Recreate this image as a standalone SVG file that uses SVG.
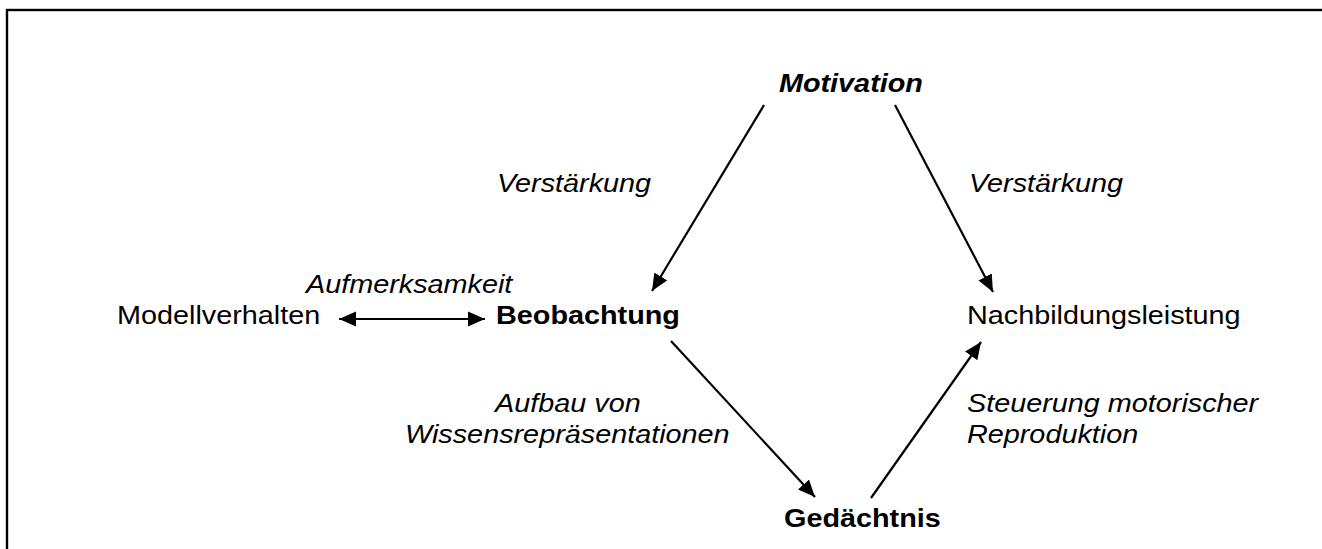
<svg xmlns="http://www.w3.org/2000/svg" width="1322" height="549" viewBox="0 0 1322 549">
<style>
text{font-family:"Liberation Sans",Arial,sans-serif;font-size:25px;fill:#000}
.b{font-weight:bold}
.i{font-style:italic}
.c line{stroke:#000;stroke-width:2.2}
</style>
<defs>
<marker id="ah" markerUnits="userSpaceOnUse" markerWidth="18" markerHeight="16" refX="17" refY="8" orient="auto-start-reverse" viewBox="0 0 18 16">
<path d="M0,0.5 L17,8 L0,15.5 Z" fill="#000"/>
</marker>
</defs>
<rect x="0" y="0" width="1322" height="549" fill="#fff"/>
<rect x="7" y="10" width="1340" height="580" fill="none" stroke="#000" stroke-width="2.4"/>
<g class="c" id="connectors">
<line x1="764" y1="105" x2="652" y2="291" marker-end="url(#ah)"/>
<line x1="895" y1="105" x2="993" y2="292" marker-end="url(#ah)"/>
<line x1="339" y1="319" x2="485" y2="319" marker-start="url(#ah)" marker-end="url(#ah)"/>
<line x1="671" y1="341" x2="815" y2="497" marker-end="url(#ah)"/>
<line x1="871" y1="498" x2="981" y2="342" marker-end="url(#ah)"/>
</g>
<g transform="scale(1.152,1)">
<g id="motivation"><text class="b i" x="676.2" y="92">Motivation</text></g>
<g id="beobachtung"><text class="b" x="430.6" y="324">Beobachtung</text></g>
<g id="modellverhalten"><text x="101.6" y="324">Modellverhalten</text></g>
<g id="nachbildungsleistung"><text x="839.4" y="324">Nachbildungsleistung</text></g>
<g id="gedaechtnis"><text class="b" x="680.6" y="527">Gedächtnis</text></g>
<g id="labels">
<text class="i" x="431.4" y="192">Verstärkung</text>
<text class="i" x="841.1" y="192">Verstärkung</text>
<text class="i" x="265.6" y="293">Aufmerksamkeit</text>
<text class="i" x="429.7" y="412">Aufbau von</text>
<text class="i" x="351.6" y="443">Wissensrepräsentationen</text>
<text class="i" x="839.4" y="412">Steuerung motorischer</text>
<text class="i" x="839.4" y="443">Reproduktion</text>
</g>
</g>
</svg>
